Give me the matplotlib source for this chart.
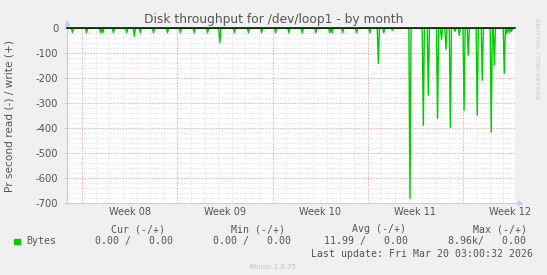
import numpy as np
import matplotlib
matplotlib.use("Agg")
import matplotlib.pyplot as plt

# spikes of the read series (days from left edge of graph, bytes/s, negative = read)
spike_day = [0.43, 1.46, 2.49, 2.66, 3.44, 4.42, 4.98, 5.42, 6.39, 7.42,
             8.37, 9.39, 10.37, 11.27, 12.35, 13.38, 14.35, 15.38, 16.36, 17.34,
             18.34, 19.36, 19.54, 20.31, 21.34, 22.32, 22.94, 23.34, 23.98, 25.27,
             26.25, 26.62, 27.30, 27.59, 27.92, 28.24, 28.58, 28.90, 29.25, 29.56,
             30.22, 30.59, 31.25, 31.48, 32.21, 32.39, 32.59, 32.74]
spike_value = [-18, -18, -18, -18, -18, -18, -32, -18, -18, -18,
               -18, -18, -18, -58, -18, -18, -18, -18, -18, -18,
               -18, -18, -18, -18, -18, -18, -140, -18, -8, -680,
               -388, -268, -360, -44, -84, -396, -12, -28, -328, -108,
               -348, -208, -416, -148, -180, -22, -18, -12]

week_labels = ["Week 08", "Week 09", "Week 10", "Week 11", "Week 12"]
y_ticks = [0, -100, -200, -300, -400, -500, -600, -700]

legend_head = ["Cur (-/+)", "Min (-/+)", "Avg (-/+)", "Max (-/+)"]
legend_vals = ["0.00 /   0.00", "0.00 /   0.00", "11.99 /   0.00", "8.96k/   0.00"]

W, H = 547, 275
span = 33.0        # munin month graph = 33 days
first_midnight = 0.15
first_week = 1.15

fig = plt.figure(figsize=(W / 100, H / 100), dpi=100, facecolor="#F0F0F0")
x0, x1, y0, y1 = 66.7, 515, 28.3, 203.3
ax = fig.add_axes([x0 / W, 1 - y1 / H, (x1 - x0) / W, (y1 - y0) / H])
ax.set_facecolor("white")

# grid
for d in np.arange(first_midnight, span, 1.0):
    ax.axvline(d, color="#dadada", lw=0.6, ls=(0, (1, 1.5)), zorder=1)
for v in range(-700, 1, 20):
    ax.axhline(v, color="#dadada", lw=0.6, ls=(0, (1, 1.5)), zorder=1)
for d in np.arange(first_week, span, 7.0):
    ax.axvline(d, color="#eea0a0", lw=0.7, ls=(0, (1, 2)), zorder=2)
for v in y_ticks[1:]:
    ax.axhline(v, color="#eea0a0", lw=0.7, ls=(0, (1, 2)), zorder=2)

# build read series as narrow spikes
xs, ys = [0.0], [0.0]
hw = 0.08
for d, v in zip(spike_day, spike_value):
    xs += [d - hw, d, d + hw]
    ys += [0.0, v, 0.0]
xs.append(span)
ys.append(0.0)
ax.plot(xs, ys, color="#00CC00", lw=1.0, zorder=3)
ax.axhline(0, color="black", lw=1.1, zorder=4, clip_on=False)

ax.set_xlim(0, span)
ax.set_ylim(-700, 0)

ax.set_yticks(y_ticks)
ax.set_yticklabels([str(t) for t in y_ticks])
ax.set_xticks([first_week + 3.5 + 7 * i for i in range(len(week_labels))])
ax.set_xticklabels(week_labels)
ax.tick_params(axis="x", length=0, pad=3, labelsize=7, labelcolor="#555555")
ax.tick_params(axis="y", length=2, width=0.6, color="#c8c8f0", pad=4,
               labelsize=7.2, labelcolor="#555555")

for s in ["top", "right"]:
    ax.spines[s].set_visible(False)
for s in ["left", "bottom"]:
    ax.spines[s].set_color("#c8c8f0")
    ax.spines[s].set_linewidth(0.8)

# axis arrows
ax.plot([0, 0], [1.0, 1.03], color="#c8c8f0", lw=0.8, transform=ax.transAxes, clip_on=False)
ax.plot([0], [1.03], marker="^", ms=3, color="#c8c8f0", transform=ax.transAxes, clip_on=False)
ax.plot([1.0, 1.012], [0, 0], color="#c8c8f0", lw=0.8, transform=ax.transAxes, clip_on=False)
ax.plot([1.012], [0], marker=">", ms=3, color="#c8c8f0", transform=ax.transAxes, clip_on=False)


def ft(x, y, s, **kw):
    fig.text(x / W, 1 - y / H, s, **kw)


ft(273.5, 19.5, "Disk throughput for /dev/loop1 - by month", ha="center", va="center",
   fontsize=8.8, color="#555555")
ft(10, 116, "Pr second read (-) / write (+)", ha="center", va="center", rotation=90,
   fontsize=7.6, color="#555555")
ft(537, 59, "RRDTOOL / TOBI OETIKER", ha="center", va="center", rotation=270,
   fontsize=4.6, color="#c8c8c8")

mono = dict(family="DejaVu Sans Mono", fontsize=7.15, color="#555555", va="center")
for x, s in zip([111, 231, 352, 473], legend_head):
    ft(x, 229.2, s, ha="left", **mono)
fig.patches.append(plt.Rectangle((14 / W, 1 - 244 / H), 5.5 / W, 5.5 / H,
                                 transform=fig.transFigure, color="#00CC00"))
ft(26, 241.4, "Bytes", ha="left", **mono)
for x, s in zip([95, 213, 324.5, 448], legend_vals):
    ft(x, 241.4, s, ha="left", **mono)
ft(533, 254.3, "Last update: Fri Mar 20 03:00:32 2026", ha="right", **mono)
ft(273, 267.2, "Munin 2.0.75", ha="center", va="center", fontsize=5, color="#c0c0c0")

fig.savefig("out.png", dpi=100, facecolor=fig.get_facecolor())
